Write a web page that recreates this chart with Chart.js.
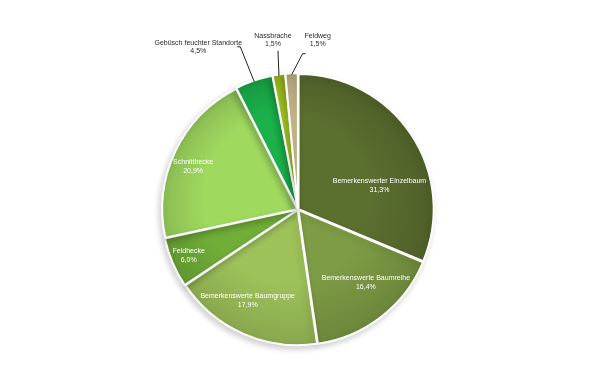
<!DOCTYPE html>
<html>
<head>
<meta charset="utf-8">
<script src="https://cdn.jsdelivr.net/npm/chart.js@4.4.1/dist/chart.umd.min.js"></script>
<style>
  html, body { margin: 0; padding: 0; background: #fff; }
  #wrap { width: 603px; height: 385px; }
</style>
</head>
<body>
<div id="wrap"><canvas id="myChart" width="603" height="385"></canvas></div>
<script>
const kategorien = [
  'Bemerkenswerter Einzelbaum',
  'Bemerkenswerte Baumreihe',
  'Bemerkenswerte Baumgruppe',
  'Feldhecke',
  'Schnitthecke',
  'Gebüsch feuchter Standorte',
  'Nassbrache',
  'Feldweg'
];
const anteile = [31.3, 16.4, 17.9, 6.0, 20.9, 4.5, 1.5, 1.5];
const farben = ['#5b6f2f', '#7e9c45', '#9ec15a', '#70ae38', '#9fda5f', '#1bb24b', '#a6c91f', '#c9ba8b'];

// wo die Beschriftung sitzt: innen (Winkelkorrektur in Grad, Radiusanteil) oder aussen
const innen = [
  { da: 17, f: 0.63 },
  { da: -5, f: 0.74 },
  { da: 5, f: 0.77 },
  { da: 0, f: 0.88 },
  { da: -3, f: 0.84 }
];
const aussen = {
  5: { tx: -56, ty: -35, lx: -14, ly: -35 },
  6: { tx: -6, ty: -36, lx: -1, ly: -25 },
  7: { tx: 26, ty: -35, lx: 11, ly: -21 }
};

function zahl(v) {
  return v.toFixed(1).replace('.', ',') + '%';
}

function verlauf(ctx) {
  const chart = ctx.chart;
  const area = chart.chartArea;
  const c = farben[ctx.dataIndex];
  if (!area) return c;
  const cx = (area.left + area.right) / 2;
  const cy = (area.top + area.bottom) / 2;
  const r = Math.min(area.width, area.height) / 2;
  const g = chart.ctx.createRadialGradient(cx - r * 0.2, cy - r * 0.2, 0, cx, cy, r);
  g.addColorStop(0, c);
  g.addColorStop(0.6, c);
  g.addColorStop(1, dunkler(c, 0.86));
  return g;
}

function dunkler(hex, k) {
  const n = parseInt(hex.slice(1), 16);
  const r = Math.round(((n >> 16) & 255) * k);
  const g = Math.round(((n >> 8) & 255) * k);
  const b = Math.round((n & 255) * k);
  return 'rgb(' + r + ',' + g + ',' + b + ')';
}

const beschriftung = {
  id: 'beschriftung',
  afterDatasetsDraw(chart) {
    const ctx = chart.ctx;
    const meta = chart.getDatasetMeta(0);
    ctx.save();
    ctx.font = '7px "Liberation Sans", Arial, sans-serif';
    ctx.textBaseline = 'middle';
    ctx.textAlign = 'center';
    meta.data.forEach((arc, i) => {
      const p = arc.getProps(['x', 'y', 'startAngle', 'endAngle', 'outerRadius']);
      const mid = (p.startAngle + p.endAngle) / 2;
      const zeilen = [kategorien[i], zahl(anteile[i])];
      if (innen[i]) {
        const a = mid + innen[i].da * Math.PI / 180;
        const d = p.outerRadius * innen[i].f;
        const x = p.x + Math.cos(a) * d;
        const y = p.y + Math.sin(a) * d;
        ctx.fillStyle = '#ffffff';
        ctx.fillText(zeilen[0], x, y - 4.5);
        ctx.fillText(zeilen[1], x, y + 4.5);
      } else if (aussen[i]) {
        const o = aussen[i];
        const ex = p.x + Math.cos(mid) * p.outerRadius;
        const ey = p.y + Math.sin(mid) * p.outerRadius;
        ctx.strokeStyle = '#222';
        ctx.lineWidth = 1;
        ctx.beginPath();
        ctx.moveTo(ex, ey);
        ctx.lineTo(ex + o.lx, ey + o.ly);
        if (i === 5) ctx.lineTo(ex + o.lx - 3, ey + o.ly);
        if (i === 7) ctx.lineTo(ex + o.lx + 3, ey + o.ly);
        ctx.stroke();
        ctx.fillStyle = '#2a2a2a';
        ctx.fillText(zeilen[0], ex + o.tx, ey + o.ty - 4);
        ctx.fillText(zeilen[1], ex + o.tx, ey + o.ty + 4.5);
      }
    });
    ctx.restore();
  }
};

const schatten = {
  id: 'schatten',
  beforeDatasetsDraw(chart) {
    chart.ctx.save();
    chart.ctx.shadowColor = 'rgba(0,0,0,0.18)';
    chart.ctx.shadowBlur = 6;
    chart.ctx.shadowOffsetX = -2;
    chart.ctx.shadowOffsetY = 3;
  },
  afterDatasetsDraw(chart) {
    chart.ctx.restore();
  }
};

const config = {
  type: 'pie',
  data: {
    labels: kategorien,
    datasets: [{
      data: anteile,
      backgroundColor: verlauf,
      borderColor: '#ffffff',
      borderWidth: 2,
      offset: 3
    }]
  },
  options: {
    responsive: false,
    animation: false,
    layout: { padding: { top: 72, bottom: 38, left: 0, right: 7 } },
    plugins: {
      legend: { display: false },
      tooltip: { enabled: false }
    }
  },
  plugins: [schatten, beschriftung]
};

var myPieChart = new Chart(document.getElementById('myChart'), config);
</script>
</body>
</html>
